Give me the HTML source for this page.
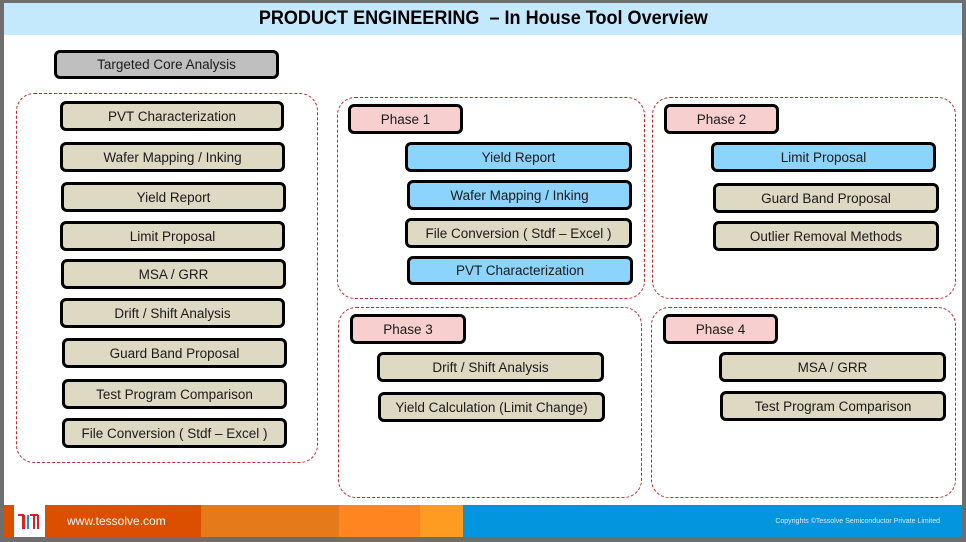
<!DOCTYPE html>
<html><head><meta charset="utf-8"><style>
body{margin:0;width:966px;height:540px;background:#6e6e6e;position:relative;overflow:hidden;font-family:"Liberation Sans",Arial,sans-serif}
#pg{position:absolute;left:4px;top:3px;width:958px;height:534px;background:#fff}
.t{position:absolute;left:4px;top:3px;width:958px;height:32px;background:#c5e9fc;text-align:center;font-weight:bold;font-size:19px;line-height:32px;color:#000;transform-origin:center}
.b{position:absolute;box-sizing:border-box;border:3px solid #000;border-radius:6px;background:#ddd9c3;font-size:13.5px;color:#1a1a1a;text-align:center;display:flex;align-items:center;justify-content:center;white-space:nowrap}
.bl{background:#8dd4fc}.pk{background:#f8cfcf}.gr{background:#bfbfbf}
.d{position:absolute;box-sizing:border-box;border:1.3px dashed #c0282a;border-radius:18px}
.f{position:absolute;top:505px;height:32px}
</style></head><body>
<div id="pg"></div>
<div class="t"><span style="display:inline-block;transform:scaleX(0.95)">PRODUCT ENGINEERING &nbsp;– In House Tool Overview</span></div>

<div class="d" style="left:16px;top:93px;width:302px;height:370px"></div>
<div class="d" style="left:337px;top:97px;width:308px;height:202px"></div>
<div class="d" style="left:652px;top:97px;width:304px;height:202px"></div>
<div class="d" style="left:338px;top:307px;width:304px;height:191px"></div>
<div class="d" style="left:651px;top:307px;width:305px;height:191px"></div>

<div class="b gr" style="left:54px;top:50px;width:225px;height:29px">Targeted Core Analysis</div>
<div class="b" style="left:60px;top:101px;width:224px;height:30px">PVT Characterization</div>
<div class="b" style="left:60px;top:142px;width:225px;height:30px">Wafer Mapping / Inking</div>
<div class="b" style="left:61px;top:182px;width:225px;height:30px">Yield Report</div>
<div class="b" style="left:60px;top:221px;width:225px;height:30px">Limit Proposal</div>
<div class="b" style="left:61px;top:259px;width:225px;height:30px">MSA / GRR</div>
<div class="b" style="left:60px;top:298px;width:225px;height:30px">Drift / Shift Analysis</div>
<div class="b" style="left:62px;top:338px;width:225px;height:30px">Guard Band Proposal</div>
<div class="b" style="left:62px;top:379px;width:225px;height:30px">Test Program Comparison</div>
<div class="b" style="left:62px;top:418px;width:225px;height:30px">File Conversion ( Stdf – Excel )</div>

<div class="b pk" style="left:348px;top:104px;width:115px;height:30px">Phase 1</div>
<div class="b bl" style="left:405px;top:142px;width:227px;height:30px">Yield Report</div>
<div class="b bl" style="left:407px;top:180px;width:225px;height:30px">Wafer Mapping / Inking</div>
<div class="b" style="left:405px;top:218px;width:227px;height:30px">File Conversion ( Stdf – Excel )</div>
<div class="b bl" style="left:407px;top:256px;width:226px;height:29px">PVT Characterization</div>

<div class="b pk" style="left:664px;top:104px;width:115px;height:30px">Phase 2</div>
<div class="b bl" style="left:711px;top:142px;width:225px;height:30px">Limit Proposal</div>
<div class="b" style="left:713px;top:183px;width:226px;height:30px">Guard Band Proposal</div>
<div class="b" style="left:713px;top:221px;width:226px;height:30px">Outlier Removal Methods</div>

<div class="b pk" style="left:350px;top:314px;width:116px;height:30px">Phase 3</div>
<div class="b" style="left:377px;top:352px;width:227px;height:30px">Drift / Shift Analysis</div>
<div class="b" style="left:378px;top:392px;width:227px;height:30px">Yield Calculation (Limit Change)</div>

<div class="b pk" style="left:663px;top:314px;width:115px;height:30px">Phase 4</div>
<div class="b" style="left:719px;top:352px;width:227px;height:30px">MSA / GRR</div>
<div class="b" style="left:720px;top:391px;width:226px;height:30px">Test Program Comparison</div>

<div class="f" style="left:4px;width:10px;background:#dd4f00"></div>
<div class="f" style="left:14px;width:31px;background:#fff">
<svg width="31" height="32"><path d="M4 10h5v14M10 10v14" stroke="#e02020" stroke-width="2" fill="none"/><path d="M14 24v-14" stroke="#1f8fe0" stroke-width="2"/><path d="M16 10h8M20 10v14M24 10v14" stroke="#e02020" stroke-width="2" fill="none"/></svg></div>
<div class="f" style="left:45px;width:156px;background:#dd4f00;color:#fff;font-size:12px;line-height:32px;padding-left:22px;box-sizing:border-box">www.tessolve.com</div>
<div class="f" style="left:201px;width:138px;background:#e57a1a"></div>
<div class="f" style="left:339px;width:81px;background:#fe851f"></div>
<div class="f" style="left:420px;width:43px;background:#fd9c20"></div>
<div class="f" style="left:463px;width:499px;background:#0395de;color:#dbeefa;font-size:7px;line-height:34px;text-align:right;padding-right:22px;box-sizing:border-box">Copyrights ©Tessolve Semiconductor Private Limited</div>
</body></html>
